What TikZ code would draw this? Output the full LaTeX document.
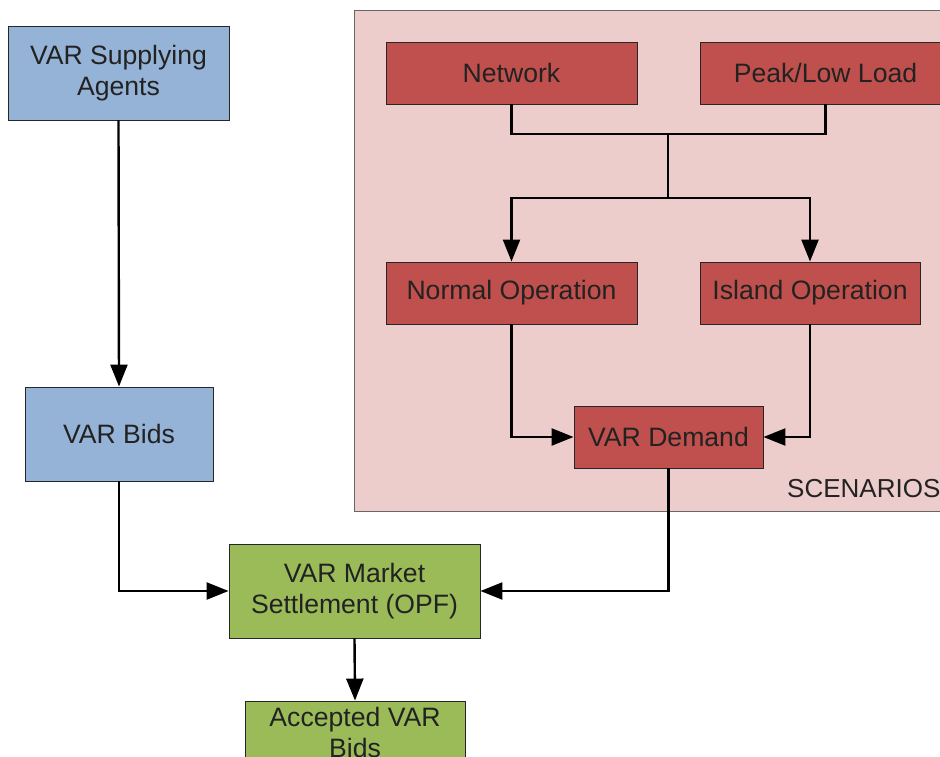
\documentclass[tikz,border=0pt]{standalone}
\usepackage{fontspec}
\setmainfont{Liberation Sans}
\usetikzlibrary{arrows.meta}
\definecolor{bluebox}{HTML}{95B3D7}
\definecolor{redbox}{HTML}{C0504D}
\definecolor{greenbox}{HTML}{9BBB59}
\definecolor{scenbg}{HTML}{ECCDCC}
\definecolor{txt}{HTML}{222222}
\tikzset{
  box/.style={draw=black!85, line width=0.9pt, minimum width=#1, inner sep=0pt,
    align=center, text=txt, font=\fontsize{26.6}{31}\selectfont},
  blk/.style={box=#1, fill=bluebox, minimum height=94pt},
  redb/.style={box=#1, fill=redbox, minimum height=62pt},
  grn/.style={box=#1, fill=greenbox},
  link/.style={line width=2.4pt, black},
  arr/.style={link, -{Triangle[length=22pt,width=17pt]}},
}
\begin{document}
\begin{tikzpicture}[x=1pt,y=-1pt]
  \useasboundingbox (0,0) rectangle (940,757);
  \clip (0,0) rectangle (940,757);

  % scenario frame
  \node[draw=black!60, line width=0.9pt, fill=scenbg, minimum width=620pt,
        minimum height=501pt, inner sep=0pt, anchor=north west] (scen) at (354,10) {};
  \node[anchor=base west, inner sep=0pt, text=txt, font=\fontsize{26}{30}\selectfont] (scenlbl) at (787,497) {SCENARIOS};

  % scenario boxes
  \node[redb=251pt] (net) at (511.5,73) {Network};
  \node[redb=251pt] (peak) at (825.5,73) {Peak/Low Load};
  \node[redb=251pt] (normal) at (511.5,293) {Normal Operation};
  \node[redb=220pt] (island) at (810,293) {Island Operation};
  \node[redb=189pt] (demand) at (668.5,437) {VAR Demand};

  % supply side
  \node[blk=221pt] (agents) at (118.5,73) {VAR Supplying\\Agents};
  \node[blk=188pt] (bids) at (119,434) {VAR Bids};

  % market
  \node[grn=251pt, minimum height=94pt] (market) at (354.5,591) {VAR Market\\Settlement (OPF)};
  \node[grn=220pt, minimum height=62pt] (accepted) at (355,732) {Accepted VAR\\Bids};

  % junction points
  \coordinate (j1) at (668,134);
  \coordinate (j2) at (668,198);

  % connectors
  \draw[link] (net.south) |- (j1) -| (peak.south);
  \draw[link] (j1) -- (j2);
  \draw[arr] (j2) -| (normal.north);
  \draw[arr] (j2) -| (island.north);
  \draw[arr] (normal.south) |- (demand.west);
  \draw[arr] (island.south) |- (demand.east);
  \draw[arr] (demand.south) |- (market.east);
  \draw[arr] (agents.south) -- (bids.north);
  \draw[arr] (bids.south) |- (market.west);
  \draw[arr] (market.south) -- (accepted.north);
\end{tikzpicture}
\end{document}
